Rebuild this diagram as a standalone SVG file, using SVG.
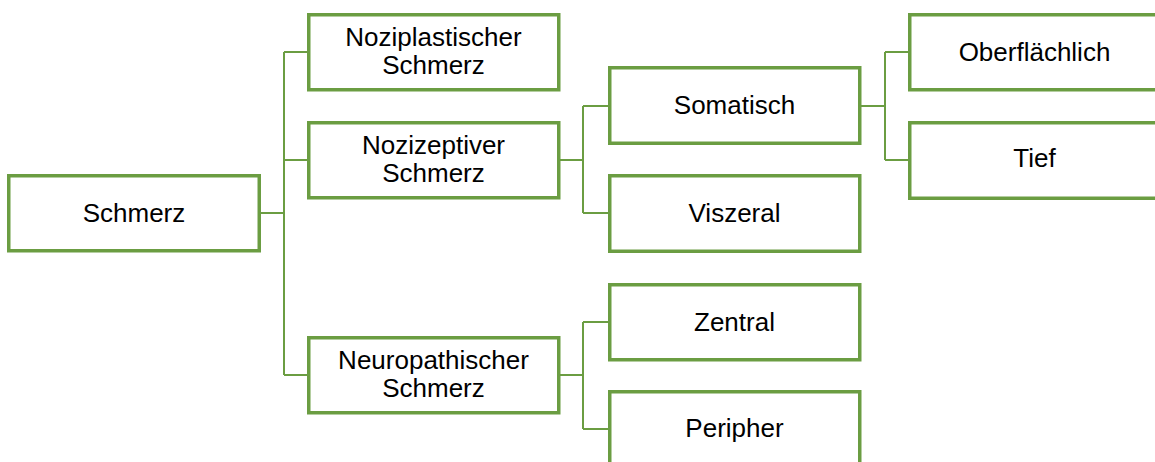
<svg xmlns="http://www.w3.org/2000/svg" width="1155" height="462" viewBox="0 0 1155 462">
  <style>
    .box { fill: #ffffff; stroke: #6B9D42; stroke-width: 3.5; }
    .conn { fill: none; stroke: #6B9D42; stroke-width: 2; }
    .lbl { font-family: "Liberation Sans", Arial, sans-serif; font-size: 26px; fill: #000000; text-anchor: middle; }
  </style>
  <rect width="1155" height="462" fill="#ffffff"/>

  <!-- tree connectors (drawn first so the boxes sit on top) -->
  <g id="connectors" class="conn">
    <path d="M261,213 H284 M284,52 V375 M284,52 H307 M284,160 H307 M284,375 H307"/>
    <path d="M560,160 H583 M583,106 V213 M583,106 H608 M583,213 H608"/>
    <path d="M560,375 H583 M583,322 V429 M583,322 H608 M583,429 H608"/>
    <path d="M861,106 H885 M885,52 V160 M885,52 H908 M885,160 H908"/>
  </g>

  <g id="schmerz">
    <rect class="box" x="8.75" y="175.75" width="250.5" height="75"/>
    <text class="lbl" x="134" y="222">Schmerz</text>
  </g>

  <g id="noziplastisch">
    <rect class="box" x="308.75" y="14.75" width="250" height="75"/>
    <text class="lbl" x="433.5" y="46">Noziplastischer</text>
    <text class="lbl" x="433.5" y="74">Schmerz</text>
  </g>

  <g id="nozizeptiv">
    <rect class="box" x="308.75" y="122.75" width="250" height="75"/>
    <text class="lbl" x="433.5" y="154">Nozizeptiver</text>
    <text class="lbl" x="433.5" y="182">Schmerz</text>
  </g>

  <g id="neuropathisch">
    <rect class="box" x="308.75" y="337.75" width="250" height="75"/>
    <text class="lbl" x="433.5" y="369">Neuropathischer</text>
    <text class="lbl" x="433.5" y="397">Schmerz</text>
  </g>

  <g id="somatisch">
    <rect class="box" x="609.75" y="67.75" width="250" height="75.5"/>
    <text class="lbl" x="734.5" y="114">Somatisch</text>
  </g>

  <g id="viszeral">
    <rect class="box" x="609.75" y="175.75" width="250" height="75.5"/>
    <text class="lbl" x="734.5" y="222">Viszeral</text>
  </g>

  <g id="zentral">
    <rect class="box" x="609.75" y="284.75" width="250" height="75"/>
    <text class="lbl" x="734.5" y="331">Zentral</text>
  </g>

  <g id="peripher">
    <rect class="box" x="609.75" y="391.75" width="250" height="76"/>
    <text class="lbl" x="734.5" y="437">Peripher</text>
  </g>

  <g id="oberflaechlich">
    <rect class="box" x="909.75" y="14.75" width="250" height="75"/>
    <text class="lbl" x="1034.5" y="61">Oberflächlich</text>
  </g>

  <g id="tief">
    <rect class="box" x="909.75" y="122.75" width="250" height="75.5"/>
    <text class="lbl" x="1034.5" y="167">Tief</text>
  </g>
</svg>
